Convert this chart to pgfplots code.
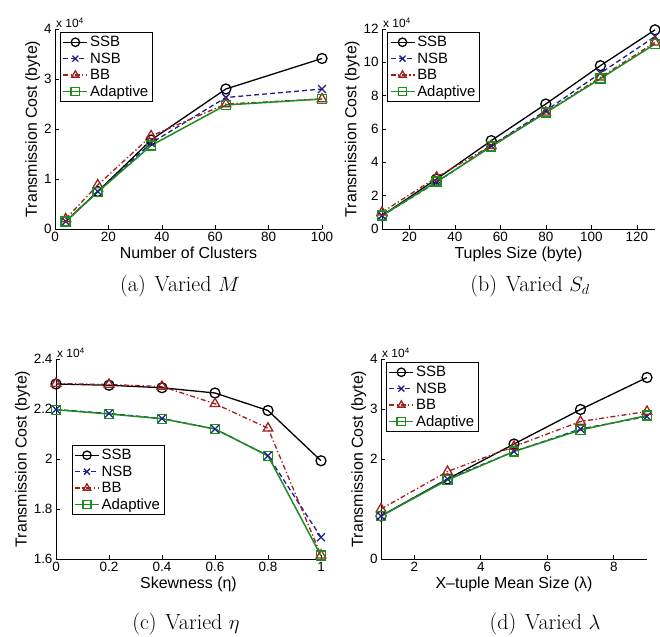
\documentclass[border=0pt]{standalone}
\usepackage{pgfplots}
\pgfplotsset{compat=1.18}
\usepackage{fontspec}
\newfontfamily\arial{Liberation Sans}

\definecolor{nsbblue}{rgb}{0.12,0.12,0.55}
\definecolor{bbred}{rgb}{0.62,0.12,0.12}
\definecolor{adgreen}{rgb}{0.12,0.55,0.12}

\pgfplotsset{
  panel/.style={
    scale only axis, width=266bp, height=200bp, anchor=south west,
    axis x line*=bottom, axis y line*=left,
    axis line style={-, line width=0.6bp},
    tick align=inside, major tick length=4bp,
    tick style={black, line width=0.6bp},
    ticklabel style={font=\arial\fontsize{13.5}{15}\selectfont},
    label style={font=\arial\fontsize{16}{18}\selectfont},
    /pgf/number format/assume math mode=true,
    scaled ticks=false,
    ylabel={Transmission Cost (byte)},
    ylabel style={yshift=-3bp},
    xlabel style={yshift=2bp},
    legend style={draw=black, line width=0.6bp,
      font=\arial\fontsize{15}{17}\selectfont,
      cells={anchor=west}, inner sep=2bp, row sep=0.5bp,
      at={(0.02,0.985)}, anchor=north west},
    legend image code/.code={\draw[mark repeat=2,mark phase=2, mark size=4.2bp]
      plot coordinates {(0bp,0bp) (12bp,0bp) (24bp,0bp)};},
    clip=false,
  },
  ssb/.style={black, line width=1.3bp, mark=o, mark size=5bp, mark options={solid}},
  nsb/.style={nsbblue, line width=1.3bp, dash pattern=on 5bp off 3bp, mark=x, mark size=5.5bp, mark options={solid}},
  bb/.style={bbred, line width=1.3bp, dash pattern=on 5bp off 2.5bp on 1.3bp off 2.5bp, mark=triangle, mark size=5.5bp, mark options={solid}},
  ad/.style={adgreen, line width=1.5bp, mark=square, mark size=4.5bp, mark options={solid}},
}
\newcommand{\expnote}{\node[anchor=south west, inner sep=1bp, font=\arial\fontsize{12}{14}\selectfont] at (rel axis cs:0,1) {x 10\textsuperscript{4}};}
\newcommand{\capfont}{\fontsize{22}{26}\selectfont}

\begin{document}
\begin{tikzpicture}
\useasboundingbox (0,0) rectangle (660bp,637bp);

% (a) Varied M
\begin{axis}[panel, at={(55bp,408bp)}, width=267bp,
  xmin=0, xmax=100, ymin=0, ymax=4,
  xtick={0,20,40,60,80,100}, ytick={0,1,2,3,4},
  xlabel={Number of Clusters}]
  \addplot[ssb] coordinates {(4,0.15) (16,0.75) (36,1.78) (64,2.8) (100,3.41)};
  \addplot[nsb] coordinates {(4,0.15) (16,0.75) (36,1.72) (64,2.63) (100,2.8)};
  \addplot[bb] coordinates {(4,0.2) (16,0.88) (36,1.86) (64,2.5) (100,2.6)};
  \addplot[ad] coordinates {(4,0.15) (16,0.74) (36,1.67) (64,2.48) (100,2.6)};
  \legend{SSB,NSB,BB,Adaptive}
  \expnote
\end{axis}
\node[font=\capfont] at (180bp,351bp) {(a)\hspace{0.4em}Varied\hspace{0.3em}$M$};

% (b) Varied S_d
\begin{axis}[panel, at={(382bp,408bp)}, width=273bp,
  xmin=8, xmax=128, ymin=0, ymax=12,
  xtick={20,40,60,80,100,120}, ytick={0,2,4,6,8,10,12},
  xlabel={Tuples Size (byte)}]
  \addplot[ssb] coordinates {(8,0.8) (32,3.0) (56,5.3) (80,7.5) (104,9.8) (128,11.95)};
  \addplot[nsb] coordinates {(8,0.8) (32,2.8) (56,5.0) (80,7.1) (104,9.35) (128,11.55)};
  \addplot[bb] coordinates {(8,1.0) (32,3.1) (56,5.0) (80,7.0) (104,9.1) (128,11.2)};
  \addplot[ad] coordinates {(8,0.8) (32,2.84) (56,4.94) (80,6.98) (104,9.02) (128,11.1)};
  \legend{SSB,NSB,BB,Adaptive}
  \expnote
\end{axis}
\node[font=\capfont] at (530bp,351bp) {(b)\hspace{0.4em}Varied\hspace{0.3em}$S_d$};

% (c) Varied eta
\begin{axis}[panel, at={(56bp,78bp)}, width=265bp,
  xmin=0, xmax=1, ymin=1.6, ymax=2.4,
  xtick={0,0.2,0.4,0.6,0.8,1}, ytick={1.6,1.8,2,2.2,2.4},
  xlabel={Skewness (η)},
  legend style={at={(0.06,0.57)}, anchor=north west}]
  \addplot[ssb] coordinates {(0,2.3) (0.2,2.295) (0.4,2.285) (0.6,2.264) (0.8,2.194) (1,1.993)};
  \addplot[nsb] coordinates {(0,2.198) (0.2,2.182) (0.4,2.162) (0.6,2.12) (0.8,2.013) (1,1.687)};
  \addplot[bb] coordinates {(0,2.302) (0.2,2.298) (0.4,2.29) (0.6,2.221) (0.8,2.123) (1,1.615)};
  \addplot[ad] coordinates {(0,2.197) (0.2,2.18) (0.4,2.161) (0.6,2.12) (0.8,2.013) (1,1.613)};
  \legend{SSB,NSB,BB,Adaptive}
  \expnote
\end{axis}
\node[font=\capfont] at (186bp,13bp) {(c)\hspace{0.4em}Varied\hspace{0.3em}$\eta$};

% (d) Varied lambda
\begin{axis}[panel, at={(381bp,78bp)}, width=266bp,
  xmin=1, xmax=9, ymin=0, ymax=4,
  xtick={2,4,6,8}, ytick={0,2,3,4},
  xlabel={X\textendash tuple Mean Size (λ)}]
  \addplot[ssb] coordinates {(1,0.86) (3,1.6) (5,2.3) (7,2.99) (9,3.63)};
  \addplot[nsb] coordinates {(1,0.86) (3,1.6) (5,2.15) (7,2.6) (9,2.85)};
  \addplot[bb] coordinates {(1,1.0) (3,1.75) (5,2.25) (7,2.75) (9,2.95)};
  \addplot[ad] coordinates {(1,0.86) (3,1.58) (5,2.15) (7,2.58) (9,2.87)};
  \legend{SSB,NSB,BB,Adaptive}
  \expnote
\end{axis}
\node[font=\capfont] at (545bp,13bp) {(d)\hspace{0.4em}Varied\hspace{0.3em}$\lambda$};
\end{tikzpicture}
\end{document}
